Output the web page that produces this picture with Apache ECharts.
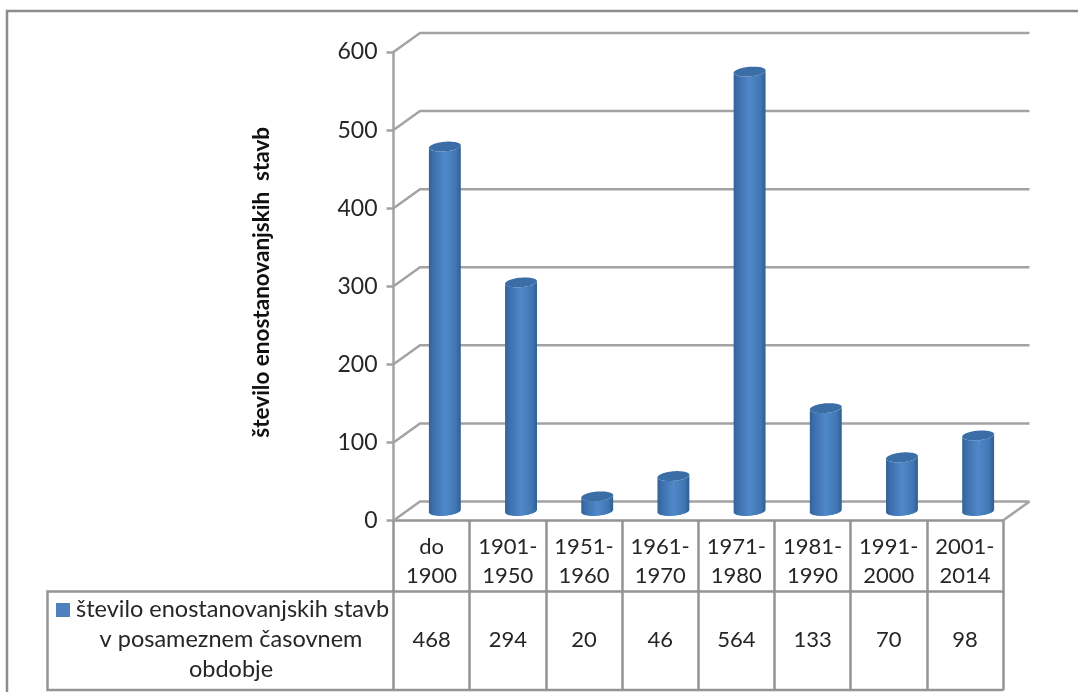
<!DOCTYPE html>
<html>
<head>
<meta charset="utf-8">
<style>html,body{margin:0;padding:0;background:#fff}#c{width:1078px;height:692px}</style>
<script src="https://cdn.jsdelivr.net/npm/echarts@6/dist/echarts.min.js"></script>
</head>
<body>
<div id="c"></div>
<script>
const categories = ['do\n1900','1901-\n1950','1951-\n1960','1961-\n1970','1971-\n1980','1981-\n1990','1991-\n2000','2001-\n2014'];
const values = [468,294,20,46,564,133,70,98];
const yTicks = [0,100,200,300,400,500,600];
const axisTitle = 'število enostanovanjskih  stavb';
const legendLines = ['število enostanovanjskih stavb','v posameznem časovnem','obdobje'];

const FONT = 'Lato, "Open Sans", sans-serif';
const LINE = '#a3a3a3', TABLE = '#949494', TEXT = '#262626';
const GL = 393.5, GR = 1003, GT = 52, GB = 520.5;
const DX = 26.5, DY = 19;
const R = 16, RY = 4.8, TILT = -5 * Math.PI / 180;

function ellipsePts(cx, cy, a0, a1, n) {
  const pts = [];
  for (let i = 0; i <= n; i++) {
    const t = a0 + (a1 - a0) * i / n;
    const x = R * Math.cos(t), y = RY * Math.sin(t);
    pts.push([cx + x * Math.cos(TILT) - y * Math.sin(TILT), cy + x * Math.sin(TILT) + y * Math.cos(TILT)]);
  }
  return pts;
}
const sideFill = new echarts.graphic.LinearGradient(0,0,1,0,[
  {offset:0,color:'#31619a'},{offset:.12,color:'#3c6eaa'},{offset:.5,color:'#5088c9'},
  {offset:.85,color:'#4076b2'},{offset:1,color:'#2e5d94'}]);

function renderBar(params, api) {
  const base = api.coord([api.value(0), 0]);
  const top = api.coord([api.value(0), api.value(1)]);
  const cx = base[0] + DX / 2;
  const by = base[1] - DY / 2, ty = top[1] - 8.5;
  const lowerB = ellipsePts(cx, by, 0, Math.PI, 40);
  const lowerT = ellipsePts(cx, ty, Math.PI, 0, 40);
  return {type:'group', children:[
    {type:'polygon', shape:{points:lowerB.concat(lowerT)}, style:{fill:sideFill}},
    {type:'polygon', shape:{points:ellipsePts(cx, ty, 0, Math.PI*2, 60)}, style:{fill:'#3b6da6'}}
  ]};
}
function renderGrid(params, api) {
  const p = api.coord([0, api.value(0)]);
  const yy = p[1];
  return {type:'polyline', shape:{points:[[GL,yy],[GL+DX,yy-DY],[GR+DX,yy-DY]]},
    style:{fill:null, stroke:LINE, lineWidth:2.5}};
}
function renderFloorEdge(params, api) {
  const p = api.coord([0, 0]);
  return {type:'line', shape:{x1:GR,y1:p[1],x2:GR+DX,y2:p[1]-DY}, style:{stroke:LINE,lineWidth:2.5}};
}

const chart = echarts.init(document.getElementById('c'), null, {renderer:'canvas'});
chart.setOption({
  animation:false,
  backgroundColor:'#fff',
  textStyle:{fontFamily:FONT},
  grid:{left:GL, top:GT, width:GR-GL, height:GB-GT, containLabel:false},
  xAxis:[
    {type:'category', position:'bottom', data:categories, boundaryGap:true,
     axisLine:{show:true,lineStyle:{color:TABLE,width:2.5}},
     axisTick:{show:true,length:71,lineStyle:{color:TABLE,width:2.5}},
     axisLabel:{interval:0,fontFamily:FONT,fontSize:22,color:TEXT,lineHeight:29,margin:12,align:'center'}},
    {type:'category', position:'bottom', offset:71, data:values.map(String), boundaryGap:true,
     axisLine:{show:true,lineStyle:{color:TABLE,width:2.5}},
     axisTick:{show:true,length:99,lineStyle:{color:TABLE,width:2.5}},
     axisLabel:{interval:0,fontFamily:FONT,fontSize:22,color:TEXT,margin:37,align:'center'}}
  ],
  yAxis:{type:'value', min:0, max:600, interval:100,
    name:axisTitle, nameLocation:'middle', nameGap:108, nameRotate:90,
    nameTextStyle:{fontFamily:FONT,fontSize:22.5,fontWeight:'bold',color:'#111',padding:[0,0,12,8]},
    axisLine:{show:true,lineStyle:{color:LINE,width:2.5}},
    axisTick:{show:true,length:7,lineStyle:{color:LINE,width:2.5}},
    axisLabel:{fontFamily:FONT,fontSize:23,color:TEXT,margin:16,padding:[2,0,0,0]},
    splitLine:{show:false}},
  series:[
    {type:'custom', name:'grid', xAxisIndex:0, yAxisIndex:0, z:1, silent:true,
     data:yTicks.map(v=>[v]), encode:{y:0}, renderItem:renderGrid, clip:false},
    {type:'custom', name:'floor', xAxisIndex:0, yAxisIndex:0, z:1, silent:true,
     data:[[0]], encode:{y:0}, renderItem:renderFloorEdge, clip:false},
    {type:'custom', name:legendLines.join(' '), xAxisIndex:0, yAxisIndex:0, z:3, silent:true,
     data:values.map((v,i)=>[i,v]), encode:{x:0,y:1}, renderItem:renderBar, clip:false}
  ],
  graphic:[
    {type:'polyline', silent:true, shape:{points:[[7,692],[7,11],[1078,11]]}, style:{fill:null,stroke:'#8c8c8c',lineWidth:2.5}},
    {type:'polyline', silent:true, shape:{points:[[GL,591.5],[47.5,591.5],[47.5,690],[GR,690]]}, style:{fill:null,stroke:TABLE,lineWidth:2.5}},
    {type:'rect', silent:true, shape:{x:56,y:603,width:14,height:14}, style:{fill:'#4f81bd'}},
    {type:'text', silent:true, style:{x:76,y:609,text:legendLines[0],font:'23.5px '+FONT,fill:TEXT,textAlign:'left',textVerticalAlign:'middle'}},
    {type:'text', silent:true, style:{x:231,y:639,text:legendLines[1],font:'23.5px '+FONT,fill:TEXT,textAlign:'center',textVerticalAlign:'middle'}},
    {type:'text', silent:true, style:{x:231,y:669,text:legendLines[2],font:'23.5px '+FONT,fill:TEXT,textAlign:'center',textVerticalAlign:'middle'}}
  ]
});
</script>
</body>
</html>
